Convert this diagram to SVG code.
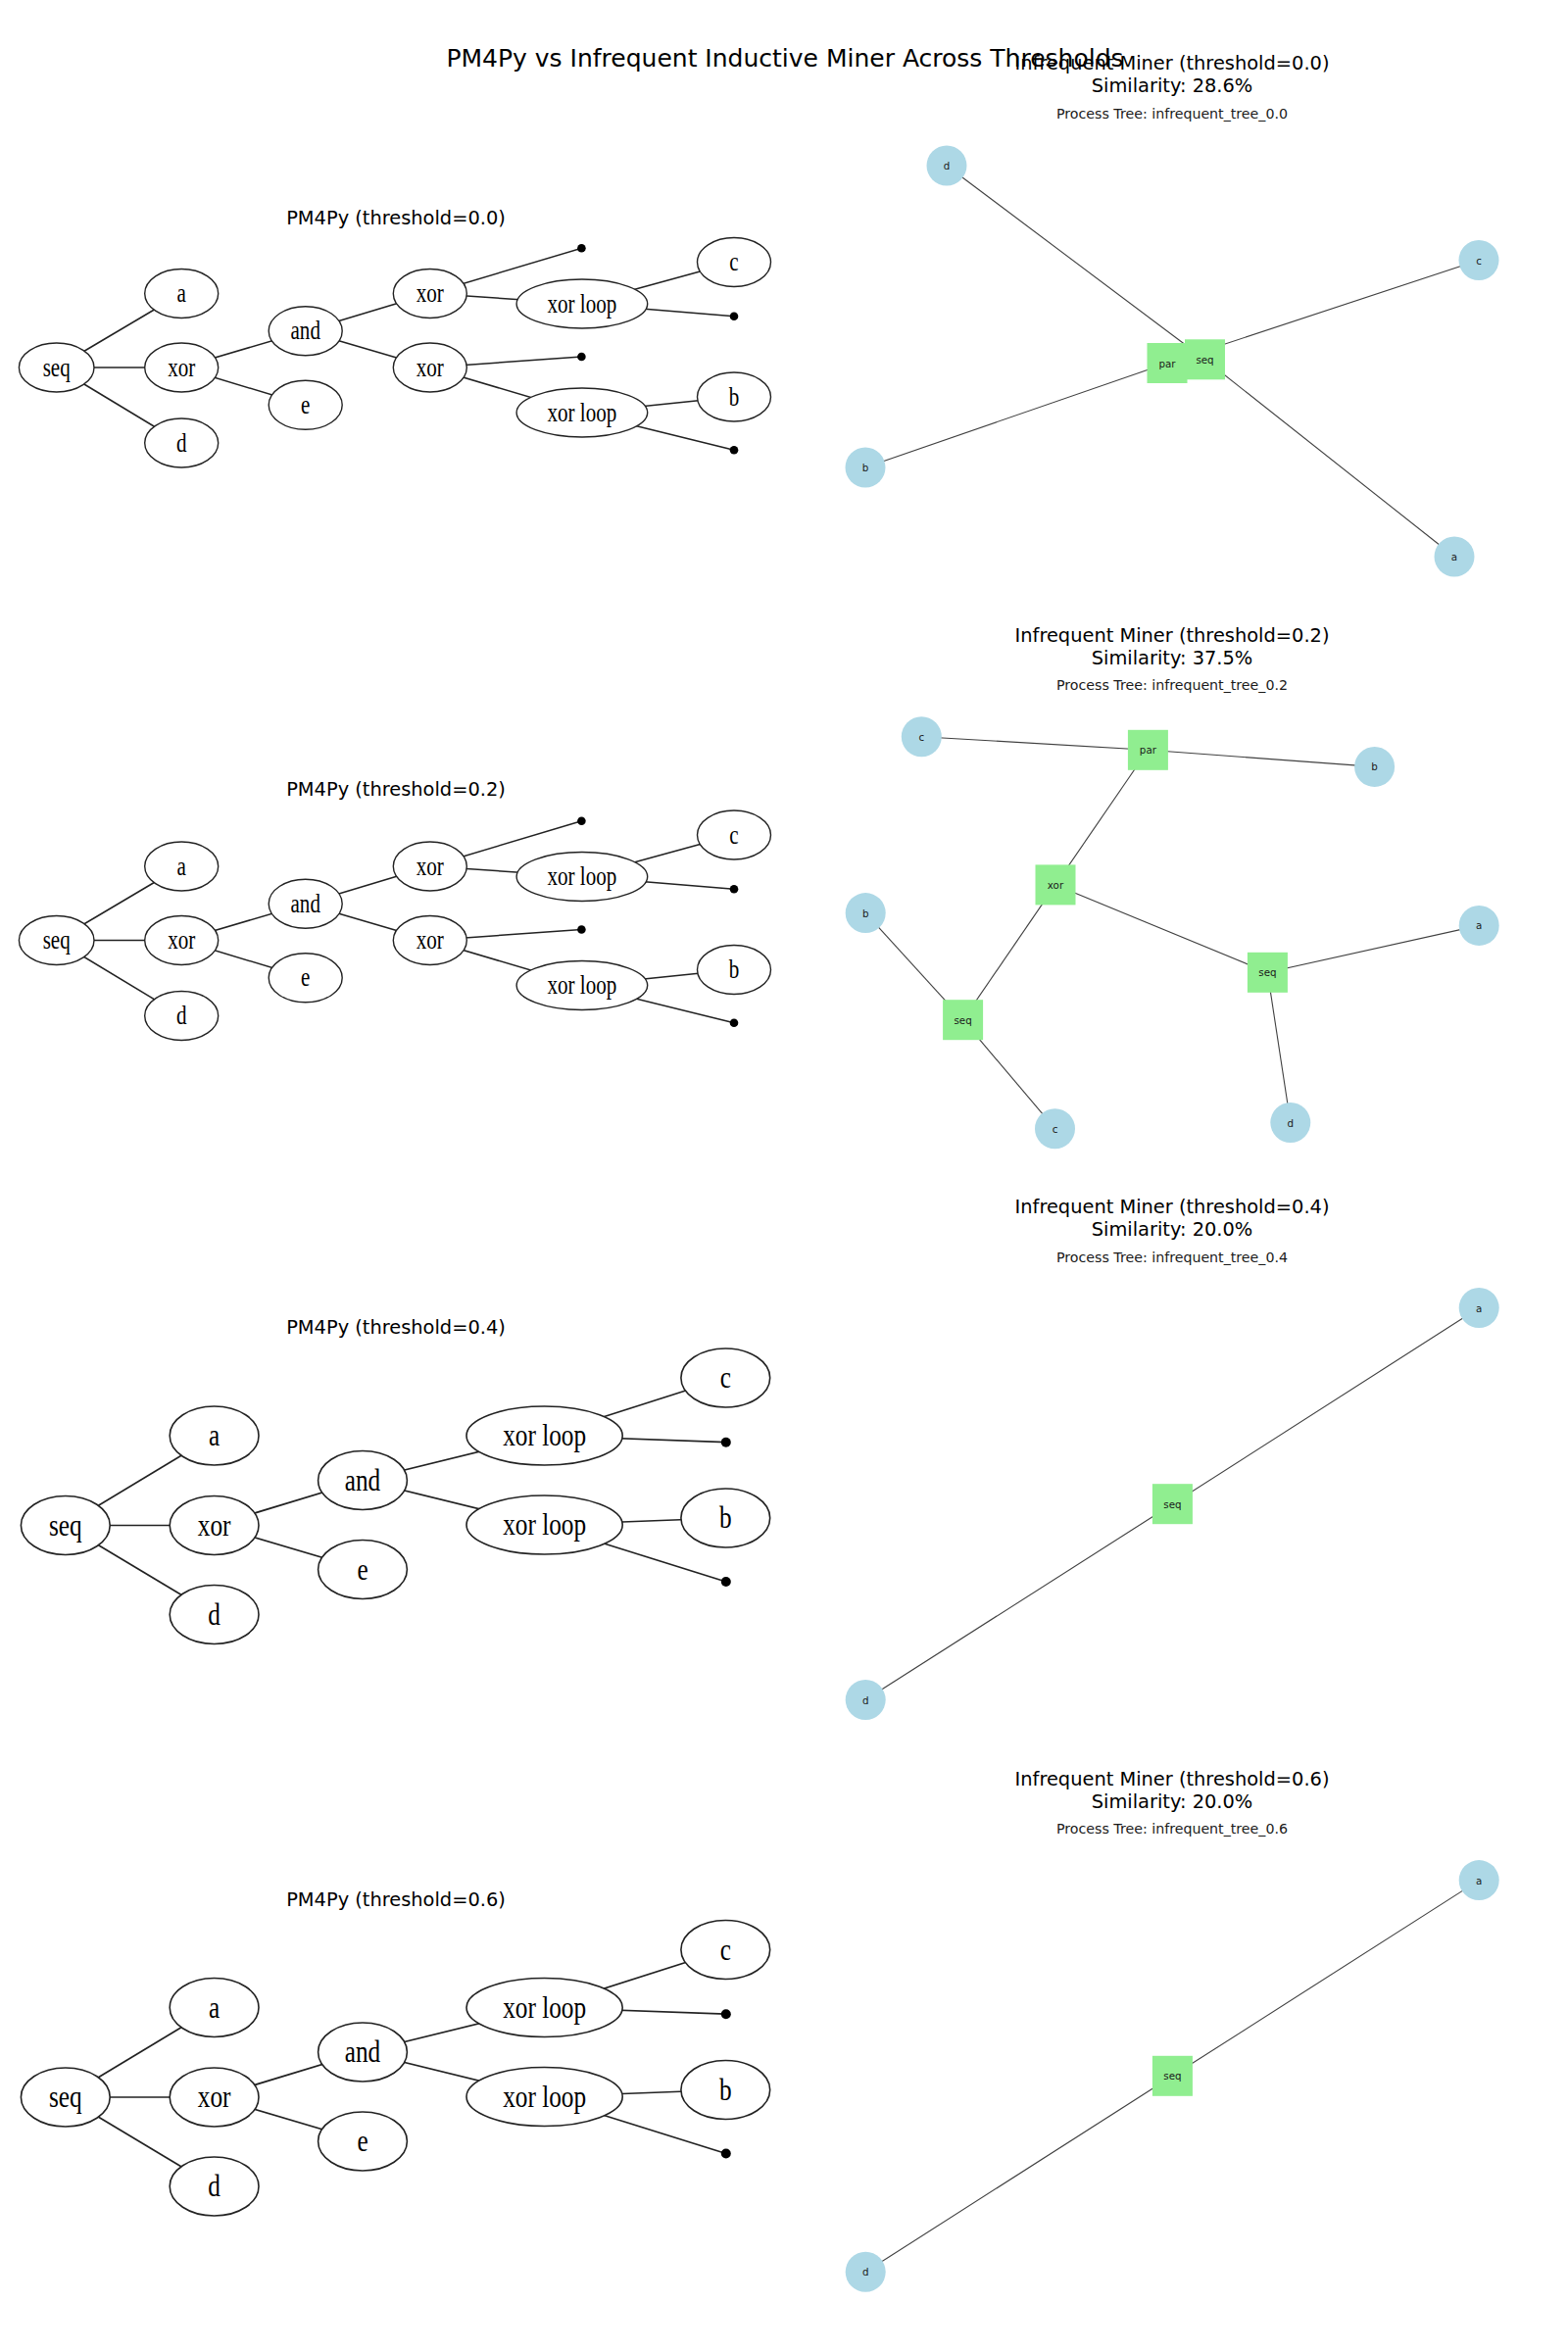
<svg xmlns="http://www.w3.org/2000/svg" width="1600" height="2400" viewBox="0 0 1600 2400">
  <style>
    .sup { font-family: "DejaVu Sans", sans-serif; font-size: 25px; fill: #000; text-anchor: middle; }
    .ttl { font-family: "DejaVu Sans", sans-serif; font-size: 19.4px; fill: #000; text-anchor: middle; }
    .sub { font-family: "DejaVu Sans", sans-serif; font-size: 14.2px; fill: #1a1a1a; text-anchor: middle; }
    .tedge line { stroke: #222; stroke-width: 1.5; }
    .tnode ellipse { fill: #fff; stroke: #222; stroke-width: 1.4; }
    .tnode text { font-family: "Liberation Serif", "Times New Roman", serif; font-size: 27px; fill: #000; text-anchor: middle; }
    .big .tnode text { font-size: 32.4px; }
    .big .tedge line { stroke-width: 1.7; }
    .big .tnode ellipse { stroke-width: 1.6; }
    .pt { fill: #000; }
    .nedge line { stroke: #404040; stroke-width: 1.1; }
    .leaf circle { fill: #add8e6; }
    .op rect { fill: #90ee90; }
    .leaf text, .op text { font-family: "DejaVu Sans", sans-serif; font-size: 10.3px; fill: #1a1a1a; text-anchor: middle; dominant-baseline: central; }
  </style>

  <rect width="1600" height="2400" fill="#fff"/>

  <!-- figure title -->
  <text class="sup" x="801" y="68">PM4Py vs Infrequent Inductive Miner Across Thresholds</text>

  <!-- ===== Left column: PM4Py process trees ===== -->

  <!-- threshold 0.0 -->
  <g id="pm4py-0.0">
    <text class="ttl" x="404" y="229">PM4Py (threshold=0.0)</text>
    <g class="tedge" id="pm4py-0.0-edges">
      <line x1="57.7" y1="375" x2="185.2" y2="299.5"/>
      <line x1="57.7" y1="375" x2="185.2" y2="375"/>
      <line x1="57.7" y1="375" x2="185.2" y2="452"/>
      <line x1="185.2" y1="375" x2="311.7" y2="337.7"/>
      <line x1="185.2" y1="375" x2="311.7" y2="413.3"/>
      <line x1="311.7" y1="337.7" x2="438.8" y2="299.5"/>
      <line x1="311.7" y1="337.7" x2="438.8" y2="375"/>
      <line x1="438.8" y1="299.5" x2="593.4" y2="253.3"/>
      <line x1="438.8" y1="299.5" x2="593.9" y2="310"/>
      <line x1="593.9" y1="310" x2="749" y2="267.5"/>
      <line x1="593.9" y1="310" x2="749" y2="322.7"/>
      <line x1="438.8" y1="375" x2="593.4" y2="364"/>
      <line x1="438.8" y1="375" x2="593.9" y2="421"/>
      <line x1="593.9" y1="421" x2="749" y2="405"/>
      <line x1="593.9" y1="421" x2="749" y2="459.3"/>
    </g>
    <g class="tnode" id="t00-seq"><ellipse cx="57.7" cy="375" rx="38.3" ry="25"/><text transform="translate(57.7 383.5) scale(0.78 1)">seq</text></g>
    <g class="tnode" id="t00-a"><ellipse cx="185.2" cy="299.5" rx="37.5" ry="25"/><text transform="translate(185.2 308) scale(0.78 1)">a</text></g>
    <g class="tnode" id="t00-xor"><ellipse cx="185.2" cy="375" rx="37.5" ry="25"/><text transform="translate(185.2 383.5) scale(0.78 1)">xor</text></g>
    <g class="tnode" id="t00-d"><ellipse cx="185.2" cy="452" rx="37.5" ry="25"/><text transform="translate(185.2 460.5) scale(0.78 1)">d</text></g>
    <g class="tnode" id="t00-and"><ellipse cx="311.7" cy="337.7" rx="37.5" ry="25"/><text transform="translate(311.7 346.2) scale(0.78 1)">and</text></g>
    <g class="tnode" id="t00-e"><ellipse cx="311.7" cy="413.3" rx="37.5" ry="25"/><text transform="translate(311.7 421.8) scale(0.78 1)">e</text></g>
    <g class="tnode" id="t00-xor1"><ellipse cx="438.8" cy="299.5" rx="37.5" ry="25"/><text transform="translate(438.8 308) scale(0.78 1)">xor</text></g>
    <g class="tnode" id="t00-xor2"><ellipse cx="438.8" cy="375" rx="37.5" ry="25"/><text transform="translate(438.8 383.5) scale(0.78 1)">xor</text></g>
    <g class="tnode" id="t00-loop1"><ellipse cx="593.9" cy="310" rx="66.8" ry="25"/><text transform="translate(593.9 318.5) scale(0.78 1)">xor loop</text></g>
    <g class="tnode" id="t00-loop2"><ellipse cx="593.9" cy="421" rx="66.8" ry="25"/><text transform="translate(593.9 429.5) scale(0.78 1)">xor loop</text></g>
    <g class="tnode" id="t00-c"><ellipse cx="749" cy="267.5" rx="37.5" ry="25"/><text transform="translate(749 276) scale(0.78 1)">c</text></g>
    <g class="tnode" id="t00-b"><ellipse cx="749" cy="405" rx="37.5" ry="25"/><text transform="translate(749 413.5) scale(0.78 1)">b</text></g>
    <g id="t00-tau1"><circle class="pt" cx="593.4" cy="253.3" r="4.3"/></g>
    <g id="t00-tau2"><circle class="pt" cx="749" cy="322.7" r="4.3"/></g>
    <g id="t00-tau3"><circle class="pt" cx="593.4" cy="364" r="4.3"/></g>
    <g id="t00-tau4"><circle class="pt" cx="749" cy="459.3" r="4.3"/></g>
  </g>

  <!-- threshold 0.2 (same tree, next row) -->
  <g id="pm4py-0.2">
    <text class="ttl" x="404" y="812">PM4Py (threshold=0.2)</text>
    <g transform="translate(0 584.5)">
      <g class="tedge" id="pm4py-0.2-edges">
        <line x1="57.7" y1="375" x2="185.2" y2="299.5"/>
        <line x1="57.7" y1="375" x2="185.2" y2="375"/>
        <line x1="57.7" y1="375" x2="185.2" y2="452"/>
        <line x1="185.2" y1="375" x2="311.7" y2="337.7"/>
        <line x1="185.2" y1="375" x2="311.7" y2="413.3"/>
        <line x1="311.7" y1="337.7" x2="438.8" y2="299.5"/>
        <line x1="311.7" y1="337.7" x2="438.8" y2="375"/>
        <line x1="438.8" y1="299.5" x2="593.4" y2="253.3"/>
        <line x1="438.8" y1="299.5" x2="593.9" y2="310"/>
        <line x1="593.9" y1="310" x2="749" y2="267.5"/>
        <line x1="593.9" y1="310" x2="749" y2="322.7"/>
        <line x1="438.8" y1="375" x2="593.4" y2="364"/>
        <line x1="438.8" y1="375" x2="593.9" y2="421"/>
        <line x1="593.9" y1="421" x2="749" y2="405"/>
        <line x1="593.9" y1="421" x2="749" y2="459.3"/>
      </g>
      <g class="tnode" id="t02-seq"><ellipse cx="57.7" cy="375" rx="38.3" ry="25"/><text transform="translate(57.7 383.5) scale(0.78 1)">seq</text></g>
      <g class="tnode" id="t02-a"><ellipse cx="185.2" cy="299.5" rx="37.5" ry="25"/><text transform="translate(185.2 308) scale(0.78 1)">a</text></g>
      <g class="tnode" id="t02-xor"><ellipse cx="185.2" cy="375" rx="37.5" ry="25"/><text transform="translate(185.2 383.5) scale(0.78 1)">xor</text></g>
      <g class="tnode" id="t02-d"><ellipse cx="185.2" cy="452" rx="37.5" ry="25"/><text transform="translate(185.2 460.5) scale(0.78 1)">d</text></g>
      <g class="tnode" id="t02-and"><ellipse cx="311.7" cy="337.7" rx="37.5" ry="25"/><text transform="translate(311.7 346.2) scale(0.78 1)">and</text></g>
      <g class="tnode" id="t02-e"><ellipse cx="311.7" cy="413.3" rx="37.5" ry="25"/><text transform="translate(311.7 421.8) scale(0.78 1)">e</text></g>
      <g class="tnode" id="t02-xor1"><ellipse cx="438.8" cy="299.5" rx="37.5" ry="25"/><text transform="translate(438.8 308) scale(0.78 1)">xor</text></g>
      <g class="tnode" id="t02-xor2"><ellipse cx="438.8" cy="375" rx="37.5" ry="25"/><text transform="translate(438.8 383.5) scale(0.78 1)">xor</text></g>
      <g class="tnode" id="t02-loop1"><ellipse cx="593.9" cy="310" rx="66.8" ry="25"/><text transform="translate(593.9 318.5) scale(0.78 1)">xor loop</text></g>
      <g class="tnode" id="t02-loop2"><ellipse cx="593.9" cy="421" rx="66.8" ry="25"/><text transform="translate(593.9 429.5) scale(0.78 1)">xor loop</text></g>
      <g class="tnode" id="t02-c"><ellipse cx="749" cy="267.5" rx="37.5" ry="25"/><text transform="translate(749 276) scale(0.78 1)">c</text></g>
      <g class="tnode" id="t02-b"><ellipse cx="749" cy="405" rx="37.5" ry="25"/><text transform="translate(749 413.5) scale(0.78 1)">b</text></g>
      <g id="t02-tau1"><circle class="pt" cx="593.4" cy="253.3" r="4.3"/></g>
      <g id="t02-tau2"><circle class="pt" cx="749" cy="322.7" r="4.3"/></g>
      <g id="t02-tau3"><circle class="pt" cx="593.4" cy="364" r="4.3"/></g>
      <g id="t02-tau4"><circle class="pt" cx="749" cy="459.3" r="4.3"/></g>
    </g>
  </g>

  <!-- threshold 0.4 -->
  <g id="pm4py-0.4" class="big">
    <text class="ttl" x="404" y="1361">PM4Py (threshold=0.4)</text>
    <g class="tedge" id="pm4py-0.4-edges">
      <line x1="66.8" y1="1556.5" x2="218.6" y2="1465"/>
      <line x1="66.8" y1="1556.5" x2="218.6" y2="1556.5"/>
      <line x1="66.8" y1="1556.5" x2="218.6" y2="1647.5"/>
      <line x1="218.6" y1="1556.5" x2="370" y2="1510.5"/>
      <line x1="218.6" y1="1556.5" x2="370" y2="1601.5"/>
      <line x1="370" y1="1510.5" x2="555.6" y2="1465"/>
      <line x1="370" y1="1510.5" x2="555.6" y2="1556"/>
      <line x1="555.6" y1="1465" x2="740.3" y2="1406"/>
      <line x1="555.6" y1="1465" x2="740.8" y2="1471.7"/>
      <line x1="555.6" y1="1556" x2="740.3" y2="1549"/>
      <line x1="555.6" y1="1556" x2="740.8" y2="1614"/>
    </g>
    <g class="tnode" id="t04-seq"><ellipse cx="66.8" cy="1556.5" rx="45.4" ry="30"/><text transform="translate(66.8 1566.7) scale(0.78 1)">seq</text></g>
    <g class="tnode" id="t04-a"><ellipse cx="218.6" cy="1465" rx="45.4" ry="30"/><text transform="translate(218.6 1475.2) scale(0.78 1)">a</text></g>
    <g class="tnode" id="t04-xor"><ellipse cx="218.6" cy="1556.5" rx="45.4" ry="30"/><text transform="translate(218.6 1566.7) scale(0.78 1)">xor</text></g>
    <g class="tnode" id="t04-d"><ellipse cx="218.6" cy="1647.5" rx="45.4" ry="30"/><text transform="translate(218.6 1657.7) scale(0.78 1)">d</text></g>
    <g class="tnode" id="t04-and"><ellipse cx="370" cy="1510.5" rx="45.4" ry="30"/><text transform="translate(370 1520.7) scale(0.78 1)">and</text></g>
    <g class="tnode" id="t04-e"><ellipse cx="370" cy="1601.5" rx="45.4" ry="30"/><text transform="translate(370 1611.7) scale(0.78 1)">e</text></g>
    <g class="tnode" id="t04-loop1"><ellipse cx="555.6" cy="1465" rx="79.6" ry="30"/><text transform="translate(555.6 1475.2) scale(0.78 1)">xor loop</text></g>
    <g class="tnode" id="t04-loop2"><ellipse cx="555.6" cy="1556" rx="79.6" ry="30"/><text transform="translate(555.6 1566.2) scale(0.78 1)">xor loop</text></g>
    <g class="tnode" id="t04-c"><ellipse cx="740.3" cy="1406" rx="45.4" ry="30"/><text transform="translate(740.3 1416.2) scale(0.78 1)">c</text></g>
    <g class="tnode" id="t04-b"><ellipse cx="740.3" cy="1549" rx="45.4" ry="30"/><text transform="translate(740.3 1559.2) scale(0.78 1)">b</text></g>
    <g id="t04-tau1"><circle class="pt" cx="740.8" cy="1471.7" r="5"/></g>
    <g id="t04-tau2"><circle class="pt" cx="740.8" cy="1614" r="5"/></g>
  </g>

  <!-- threshold 0.6 (same tree, next row) -->
  <g id="pm4py-0.6" class="big">
    <text class="ttl" x="404" y="1944.5">PM4Py (threshold=0.6)</text>
    <g transform="translate(0 583.5)">
      <g class="tedge" id="pm4py-0.6-edges">
        <line x1="66.8" y1="1556.5" x2="218.6" y2="1465"/>
        <line x1="66.8" y1="1556.5" x2="218.6" y2="1556.5"/>
        <line x1="66.8" y1="1556.5" x2="218.6" y2="1647.5"/>
        <line x1="218.6" y1="1556.5" x2="370" y2="1510.5"/>
        <line x1="218.6" y1="1556.5" x2="370" y2="1601.5"/>
        <line x1="370" y1="1510.5" x2="555.6" y2="1465"/>
        <line x1="370" y1="1510.5" x2="555.6" y2="1556"/>
        <line x1="555.6" y1="1465" x2="740.3" y2="1406"/>
        <line x1="555.6" y1="1465" x2="740.8" y2="1471.7"/>
        <line x1="555.6" y1="1556" x2="740.3" y2="1549"/>
        <line x1="555.6" y1="1556" x2="740.8" y2="1614"/>
      </g>
      <g class="tnode" id="t06-seq"><ellipse cx="66.8" cy="1556.5" rx="45.4" ry="30"/><text transform="translate(66.8 1566.7) scale(0.78 1)">seq</text></g>
      <g class="tnode" id="t06-a"><ellipse cx="218.6" cy="1465" rx="45.4" ry="30"/><text transform="translate(218.6 1475.2) scale(0.78 1)">a</text></g>
      <g class="tnode" id="t06-xor"><ellipse cx="218.6" cy="1556.5" rx="45.4" ry="30"/><text transform="translate(218.6 1566.7) scale(0.78 1)">xor</text></g>
      <g class="tnode" id="t06-d"><ellipse cx="218.6" cy="1647.5" rx="45.4" ry="30"/><text transform="translate(218.6 1657.7) scale(0.78 1)">d</text></g>
      <g class="tnode" id="t06-and"><ellipse cx="370" cy="1510.5" rx="45.4" ry="30"/><text transform="translate(370 1520.7) scale(0.78 1)">and</text></g>
      <g class="tnode" id="t06-e"><ellipse cx="370" cy="1601.5" rx="45.4" ry="30"/><text transform="translate(370 1611.7) scale(0.78 1)">e</text></g>
      <g class="tnode" id="t06-loop1"><ellipse cx="555.6" cy="1465" rx="79.6" ry="30"/><text transform="translate(555.6 1475.2) scale(0.78 1)">xor loop</text></g>
      <g class="tnode" id="t06-loop2"><ellipse cx="555.6" cy="1556" rx="79.6" ry="30"/><text transform="translate(555.6 1566.2) scale(0.78 1)">xor loop</text></g>
      <g class="tnode" id="t06-c"><ellipse cx="740.3" cy="1406" rx="45.4" ry="30"/><text transform="translate(740.3 1416.2) scale(0.78 1)">c</text></g>
      <g class="tnode" id="t06-b"><ellipse cx="740.3" cy="1549" rx="45.4" ry="30"/><text transform="translate(740.3 1559.2) scale(0.78 1)">b</text></g>
      <g id="t06-tau1"><circle class="pt" cx="740.8" cy="1471.7" r="5"/></g>
      <g id="t06-tau2"><circle class="pt" cx="740.8" cy="1614" r="5"/></g>
    </g>
  </g>

  <!-- ===== Right column: Infrequent Inductive Miner graphs ===== -->

  <!-- threshold 0.0 -->
  <g id="im-0.0">
    <text class="ttl" x="1196" y="71">Infrequent Miner (threshold=0.0)</text>
    <text class="ttl" x="1196" y="94">Similarity: 28.6%</text>
    <text class="sub" x="1196" y="120.5">Process Tree: infrequent_tree_0.0</text>
    <g class="nedge" id="im-0.0-edges">
      <line x1="1229.5" y1="366.8" x2="966" y2="169"/>
      <line x1="1229.5" y1="366.8" x2="1484" y2="568"/>
      <line x1="1191" y1="370.5" x2="1509" y2="265.5"/>
      <line x1="1191" y1="370.5" x2="883" y2="477"/>
      <line x1="1191" y1="370.5" x2="1229.5" y2="366.8"/>
    </g>
    <g class="leaf" id="i00-d"><circle cx="966" cy="169" r="20.5"/><text x="966" y="169">d</text></g>
    <g class="leaf" id="i00-c"><circle cx="1509" cy="265.5" r="20.5"/><text x="1509" y="265.5">c</text></g>
    <g class="leaf" id="i00-b"><circle cx="883" cy="477" r="20.5"/><text x="883" y="477">b</text></g>
    <g class="leaf" id="i00-a"><circle cx="1484" cy="568" r="20.5"/><text x="1484" y="568">a</text></g>
    <g class="op" id="i00-par"><rect x="1170.5" y="350" width="41" height="41"/><text x="1191" y="370.5">par</text></g>
    <g class="op" id="i00-seq"><rect x="1209" y="346.3" width="41" height="41"/><text x="1229.5" y="366.8">seq</text></g>
  </g>

  <!-- threshold 0.2 -->
  <g id="im-0.2">
    <text class="ttl" x="1196" y="654.5">Infrequent Miner (threshold=0.2)</text>
    <text class="ttl" x="1196" y="677.5">Similarity: 37.5%</text>
    <text class="sub" x="1196" y="704">Process Tree: infrequent_tree_0.2</text>
    <g class="nedge" id="im-0.2-edges">
      <line x1="940.3" y1="751.7" x2="1171.4" y2="765.3"/>
      <line x1="1171.4" y1="765.3" x2="1402.6" y2="782.4"/>
      <line x1="1171.4" y1="765.3" x2="1077" y2="902.9"/>
      <line x1="1077" y1="902.9" x2="982.6" y2="1040.7"/>
      <line x1="1077" y1="902.9" x2="1293.4" y2="992.3"/>
      <line x1="1293.4" y1="992.3" x2="1509.2" y2="944.4"/>
      <line x1="1293.4" y1="992.3" x2="1316.8" y2="1145.5"/>
      <line x1="982.6" y1="1040.7" x2="883.2" y2="931.6"/>
      <line x1="982.6" y1="1040.7" x2="1076.5" y2="1151.7"/>
    </g>
    <g class="leaf" id="i02-c1"><circle cx="940.3" cy="751.7" r="20.5"/><text x="940.3" y="751.7">c</text></g>
    <g class="leaf" id="i02-b1"><circle cx="1402.6" cy="782.4" r="20.5"/><text x="1402.6" y="782.4">b</text></g>
    <g class="leaf" id="i02-b2"><circle cx="883.2" cy="931.6" r="20.5"/><text x="883.2" y="931.6">b</text></g>
    <g class="leaf" id="i02-a"><circle cx="1509.2" cy="944.4" r="20.5"/><text x="1509.2" y="944.4">a</text></g>
    <g class="leaf" id="i02-c2"><circle cx="1076.5" cy="1151.7" r="20.5"/><text x="1076.5" y="1151.7">c</text></g>
    <g class="leaf" id="i02-d"><circle cx="1316.8" cy="1145.5" r="20.5"/><text x="1316.8" y="1145.5">d</text></g>
    <g class="op" id="i02-par"><rect x="1150.9" y="744.8" width="41" height="41"/><text x="1171.4" y="765.3">par</text></g>
    <g class="op" id="i02-xor"><rect x="1056.5" y="882.4" width="41" height="41"/><text x="1077" y="902.9">xor</text></g>
    <g class="op" id="i02-seq1"><rect x="1272.9" y="971.8" width="41" height="41"/><text x="1293.4" y="992.3">seq</text></g>
    <g class="op" id="i02-seq2"><rect x="962.1" y="1020.2" width="41" height="41"/><text x="982.6" y="1040.7">seq</text></g>
  </g>

  <!-- threshold 0.4 -->
  <g id="im-0.4">
    <text class="ttl" x="1196" y="1238">Infrequent Miner (threshold=0.4)</text>
    <text class="ttl" x="1196" y="1261">Similarity: 20.0%</text>
    <text class="sub" x="1196" y="1287.5">Process Tree: infrequent_tree_0.4</text>
    <g class="nedge" id="im-0.4-edges">
      <line x1="1196.4" y1="1534.7" x2="1509.2" y2="1334.5"/>
      <line x1="1196.4" y1="1534.7" x2="883.2" y2="1734.5"/>
    </g>
    <g class="leaf" id="i04-a"><circle cx="1509.2" cy="1334.5" r="20.5"/><text x="1509.2" y="1334.5">a</text></g>
    <g class="leaf" id="i04-d"><circle cx="883.2" cy="1734.5" r="20.5"/><text x="883.2" y="1734.5">d</text></g>
    <g class="op" id="i04-seq"><rect x="1175.9" y="1514.2" width="41" height="41"/><text x="1196.4" y="1534.7">seq</text></g>
  </g>

  <!-- threshold 0.6 -->
  <g id="im-0.6">
    <text class="ttl" x="1196" y="1821.5">Infrequent Miner (threshold=0.6)</text>
    <text class="ttl" x="1196" y="1844.5">Similarity: 20.0%</text>
    <text class="sub" x="1196" y="1871">Process Tree: infrequent_tree_0.6</text>
    <g class="nedge" id="im-0.6-edges">
      <line x1="1196.4" y1="2118.3" x2="1509.2" y2="1918.6"/>
      <line x1="1196.4" y1="2118.3" x2="883.2" y2="2318.3"/>
    </g>
    <g class="leaf" id="i06-a"><circle cx="1509.2" cy="1918.6" r="20.5"/><text x="1509.2" y="1918.6">a</text></g>
    <g class="leaf" id="i06-d"><circle cx="883.2" cy="2318.3" r="20.5"/><text x="883.2" y="2318.3">d</text></g>
    <g class="op" id="i06-seq"><rect x="1175.9" y="2097.8" width="41" height="41"/><text x="1196.4" y="2118.3">seq</text></g>
  </g>
</svg>
